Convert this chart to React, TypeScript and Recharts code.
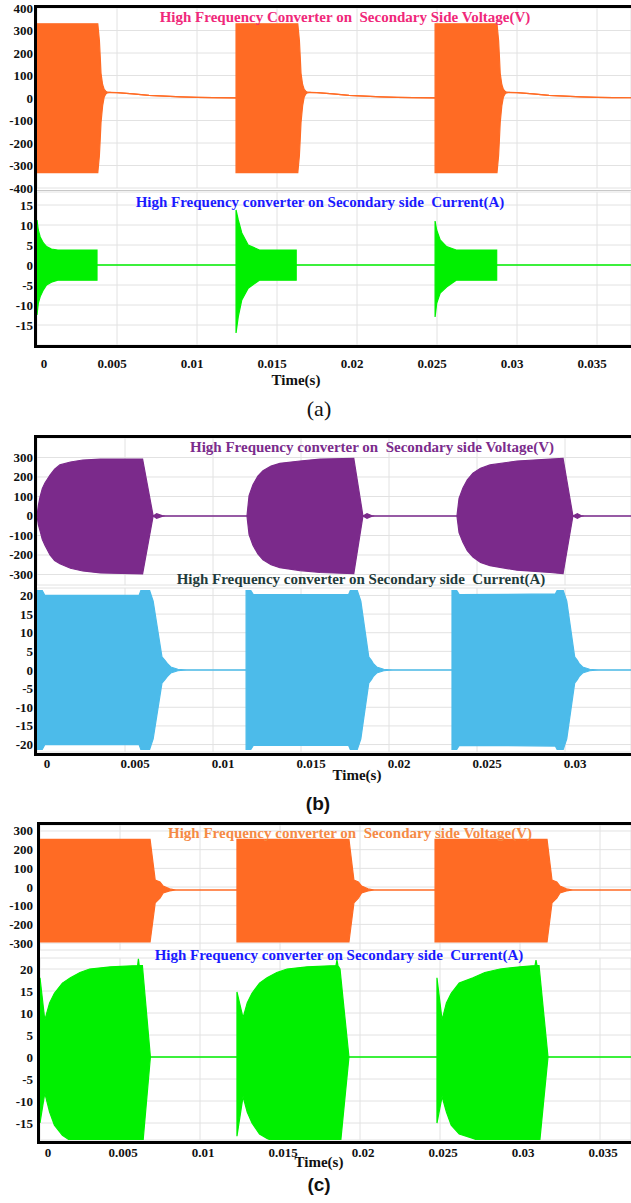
import { AreaChart, Area, XAxis, YAxis, CartesianGrid } from 'recharts'

const W = 631
const PAD = 10
const SERIF = '"Liberation Serif", "Times New Roman", serif'
const SANS = '"Liberation Sans", Arial, sans-serif'

// ---------- panel (a) ----------
const aTimeTicks = [0, 0.005, 0.01, 0.015, 0.02, 0.025, 0.03, 0.035]
const aVoltTicks = [-400, -300, -200, -100, 0, 100, 200, 300, 400]
const aCurrTicks = [-15, -10, -5, 0, 5, 10, 15]

const aVoltT = [
  0, 0.0038, 0.0039, 0.00395, 0.004, 0.0041, 0.0042, 0.0043, 0.0044, 0.0046, 0.005, 0.006, 0.007, 0.008, 0.009, 0.01, 0.011, 0.01244,
  0.01244, 0.0163, 0.0164, 0.01645, 0.0165, 0.0166, 0.0167, 0.0168, 0.0169, 0.0171, 0.0175, 0.0185, 0.0195, 0.0205, 0.0215, 0.0225, 0.0235, 0.02488,
  0.02488, 0.02875, 0.02885, 0.0289, 0.02895, 0.02905, 0.02915, 0.02925, 0.02935, 0.02955, 0.03, 0.031, 0.032, 0.033, 0.034, 0.035, 0.036, 0.0372,
]
const aVoltHi = [
  330, 330, 255, 185, 110, 60, 38, 30, 26, 25, 24, 18, 12, 8, 5, 3, 1.5, 0.5,
  330, 330, 255, 185, 110, 60, 38, 30, 26, 25, 24, 18, 12, 8, 5, 3, 1.5, 0.5,
  330, 330, 255, 185, 110, 60, 38, 30, 26, 25, 24, 18, 12, 8, 5, 3, 2, 1,
]
const aVoltLo = [
  -332, -332, -255, -185, -110, -35, 5, 18, 23, 25, 24, 18, 12, 8, 5, 3, 1.5, 0.5,
  -332, -332, -255, -185, -110, -35, 5, 18, 23, 25, 24, 18, 12, 8, 5, 3, 1.5, 0.5,
  -332, -332, -255, -185, -110, -35, 5, 18, 23, 25, 24, 18, 12, 8, 5, 3, 2, 1,
]

const aCurrT = [
  0, 0.00008, 0.0002, 0.0004, 0.0006, 0.0009, 0.0013, 0.00375, 0.00375, 0.01244,
  0.01244, 0.01258, 0.0128, 0.0132, 0.0139, 0.0162, 0.0162, 0.02488,
  0.02488, 0.02498, 0.0252, 0.0256, 0.0262, 0.02873, 0.02873, 0.0372,
]
const aCurrHi = [
  11.25, 8.75, 7, 5.5, 4.6, 4, 3.75, 3.75, 0, 0,
  13.75, 11.25, 8, 5, 3.75, 3.75, 0, 0,
  11, 8.75, 6.25, 4.6, 3.75, 3.75, 0, 0,
]
const aCurrLo = [
  -12.5, -9.6, -7.9, -6.2, -5, -4.3, -3.8, -3.8, 0, 0,
  -17, -12.9, -8.75, -5.8, -3.8, -3.8, 0, 0,
  -13, -9.6, -7, -5.5, -3.8, -3.8, 0, 0,
]

// ---------- panel (b) ----------
const bTimeTicks = [0, 0.005, 0.01, 0.015, 0.02, 0.025, 0.03]
const bVoltTicks = [-300, -200, -100, 0, 100, 200, 300]
const bCurrTicks = [-20, -15, -10, -5, 0, 5, 10, 15, 20]

const bVoltT = [
  0, 0.00008, 0.00017, 0.0003, 0.00045, 0.00074, 0.001, 0.0013, 0.0019, 0.0026, 0.0036, 0.006, 0.0066, 0.0068, 0.0071, 0.0073, 0.01193,
  0.01205, 0.01227, 0.01255, 0.01284, 0.0133, 0.0138, 0.01494, 0.01608, 0.018, 0.01852, 0.01875, 0.019, 0.0192, 0.02386,
  0.02398, 0.0242, 0.02445, 0.02477, 0.0252, 0.02574, 0.02727, 0.02915, 0.02989, 0.03045, 0.0307, 0.0309, 0.0311, 0.0338,
]
const bVoltHi = [
  0, 55, 97, 140, 169, 210, 240, 262, 277, 287, 292, 292, 0, 12, 2, 0, 0,
  105, 160, 205, 232, 256, 270, 282, 292, 295, 0, 12, 2, 0, 0,
  90, 144, 185, 220, 245, 262, 282, 292, 295, 0, 12, 2, 0, 0,
]
const bVoltLo = [
  0, -45, -75, -120, -150, -200, -228, -245, -268, -282, -292, -297, 0, -12, -2, 0, 0,
  -95, -150, -195, -225, -250, -265, -280, -290, -296, 0, -12, -2, 0, 0,
  -85, -135, -178, -210, -238, -255, -278, -290, -296, 0, -12, -2, 0, 0,
]

const bCurrT = [
  0, 0.0003, 0.00045, 0.0058, 0.0059, 0.0064, 0.0066, 0.0071, 0.00727, 0.0074, 0.0076, 0.008, 0.0085, 0.01188,
  0.01188, 0.01215, 0.0123, 0.0177, 0.0178, 0.0182, 0.0184, 0.01885, 0.019, 0.0191, 0.0193, 0.0197, 0.0202, 0.02358,
  0.02358, 0.02385, 0.024, 0.02945, 0.02955, 0.0299, 0.0301, 0.03055, 0.0307, 0.0308, 0.031, 0.0314, 0.0319, 0.0338,
]
const bCurrHi = [
  21.3, 21.3, 20, 20, 21.3, 21.3, 18.5, 3.5, 2.6, 1.8, 0.8, 0.2, 0, 0,
  21.3, 21.3, 20.2, 20.2, 21.3, 21.3, 18.5, 3.5, 2.6, 1.8, 0.8, 0.2, 0, 0,
  21.3, 21.3, 20.2, 20.4, 21.3, 21.3, 18.5, 3.5, 2.6, 1.8, 0.8, 0.2, 0, 0,
]
const bCurrLo = [
  -21.3, -21.3, -20, -20, -21.3, -21.3, -18.5, -3.5, -2.6, -1.8, -0.8, -0.2, 0, 0,
  -21.3, -21.3, -20.2, -20.2, -21.3, -21.3, -18.5, -3.5, -2.6, -1.8, -0.8, -0.2, 0, 0,
  -21.3, -21.3, -20.2, -20.4, -21.3, -21.3, -18.5, -3.5, -2.6, -1.8, -0.8, -0.2, 0, 0,
]

// ---------- panel (c) ----------
const cTimeTicks = [0, 0.005, 0.01, 0.015, 0.02, 0.025, 0.03, 0.035]
const cVoltTicks = [-300, -200, -100, 0, 100, 200, 300]
const cCurrTicks = [-15, -10, -5, 0, 5, 10, 15, 20]

const cVoltT = [
  0, 0.00688, 0.0072, 0.0075, 0.0077, 0.0081, 0.0085, 0.01231,
  0.01231, 0.01931, 0.01962, 0.0199, 0.0201, 0.0205, 0.0209, 0.02469,
  0.02469, 0.03169, 0.032, 0.0323, 0.0325, 0.0329, 0.0333, 0.03694,
]
const cVoltHi = [
  255, 255, 37, 27, 5, -10, -16, -16,
  255, 255, 37, 27, 5, -10, -16, -16,
  255, 255, 37, 27, 5, -10, -16, -16,
]
const cVoltLo = [
  -294, -294, -85, -59, -32, -21, -16, -16,
  -294, -294, -85, -59, -32, -21, -16, -16,
  -294, -294, -85, -59, -32, -21, -16, -16,
]

const cCurrT = [
  0, 0.0003, 0.0006, 0.0009, 0.0014, 0.0019, 0.0025, 0.0031, 0.0044, 0.0061, 0.00615, 0.0062, 0.0064, 0.0069, 0.01231,
  0.01231, 0.01269, 0.01295, 0.01325, 0.01372, 0.01419, 0.0148, 0.01544, 0.01669, 0.0185, 0.01856, 0.01862, 0.01875, 0.01931, 0.02481,
  0.02481, 0.02513, 0.0254, 0.0257, 0.0262, 0.02706, 0.0278, 0.02875, 0.03, 0.03094, 0.031, 0.03106, 0.03119, 0.03175, 0.03694,
]
const cCurrHi = [
  18, 8.4, 12.3, 14.5, 16.8, 18, 19.2, 20, 20.5, 20.8, 22.3, 20.8, 20.8, 0, 0,
  14.8, 8.9, 12.3, 14.5, 16.8, 18, 19.2, 20, 20.5, 20.8, 22, 20.8, 20, 0, 0,
  18, 8.4, 12.3, 14.5, 16.8, 18, 19.2, 20, 20.5, 20.8, 22, 20.8, 20.8, 0, 0,
]
const cCurrLo = [
  -15, -8.2, -12.5, -15.5, -17.8, -19, -19.8, -20, -20.5, -20.8, -20.8, -20.8, -20.8, 0, 0,
  -18, -9, -12.5, -15, -17.5, -18.5, -19.5, -20, -20.5, -20.8, -20.8, -20.8, -20.8, 0, 0,
  -15, -9, -12.5, -15.5, -17.5, -18.5, -19.5, -20, -20.5, -20.8, -20.8, -20.8, -20.8, 0, 0,
]

const renderYTick = (props: any) => (
  <text
    x={33}
    y={props.y}
    textAnchor="end"
    dominantBaseline="central"
    fontFamily={SERIF}
    fontWeight="bold"
    fontSize={13}
    fill="#111"
  >
    {props.payload.value}
  </text>
)

const makeXTick = (shift: number, zeroShift: number, dy: number) => (props: any) => {
  const v = props.payload.value
  return (
    <text
      x={props.x + (v === 0 ? zeroShift : shift)}
      y={props.y + dy}
      textAnchor="middle"
      dominantBaseline="central"
      fontFamily={SERIF}
      fontWeight="bold"
      fontSize={13}
      fill="#111"
    >
      {String(v)}
    </text>
  )
}

interface TraceProps {
  top: number
  plotLeft: number
  plotH: number
  t: number[]
  hi: number[]
  lo: number[]
  color: string
  yDomain: [number, number]
  yTicks: number[]
  xMax: number
  xTicks: number[]
  xTick?: (props: any) => any
}

// one oscilloscope trace drawn as a filled envelope [lo, hi]
function Trace(p: TraceProps) {
  const data = p.t.map((t, i) => ({ t, band: [p.lo[i], p.hi[i]] }))
  const axisH = p.xTick ? 30 : 0
  const bottom = p.xTick ? 0 : PAD
  return (
    <div style={{ position: 'absolute', left: 0, top: p.top - PAD }}>
      <AreaChart
        width={W}
        height={p.plotH + PAD + bottom + axisH}
        data={data}
        margin={{ top: PAD, right: 0, bottom, left: 0 }}
      >
        <CartesianGrid stroke="#e2e2e2" />
        <XAxis
          type="number"
          dataKey="t"
          domain={[0, p.xMax]}
          ticks={p.xTicks}
          interval={0}
          allowDataOverflow
          hide={!p.xTick}
          height={axisH || 30}
          axisLine={false}
          tickLine={false}
          tickSize={0}
          tickMargin={0}
          tick={p.xTick}
        />
        <YAxis
          type="number"
          domain={p.yDomain}
          ticks={p.yTicks}
          interval={0}
          allowDataOverflow
          width={p.plotLeft}
          axisLine={false}
          tickLine={false}
          tick={renderYTick}
        />
        <Area
          type="linear"
          dataKey="band"
          stroke={p.color}
          strokeWidth={1.2}
          fill={p.color}
          fillOpacity={1}
          dot={false}
          activeDot={false}
          isAnimationActive={false}
        />
      </AreaChart>
    </div>
  )
}

function Frame({ left, top, bottom }: { left: number; top: number; bottom: number }) {
  const bar = { position: 'absolute' as const, background: '#000' }
  return (
    <>
      <div style={{ ...bar, left, top, width: W - left, height: 3 }} />
      <div style={{ ...bar, left, top, width: 3, height: bottom - top + 3 }} />
      <div style={{ ...bar, left, top: bottom, width: W - left, height: 3 }} />
    </>
  )
}

function Label({ x, y, text, color, size = 15, family = SERIF, bold = true }: {
  x: number; y: number; text: string; color: string; size?: number; family?: string; bold?: boolean
}) {
  return (
    <div
      style={{
        position: 'absolute',
        left: x,
        top: y,
        transform: 'translate(-50%, -50%)',
        whiteSpace: 'pre',
        fontFamily: family,
        fontWeight: bold ? 'bold' : 'normal',
        fontSize: size,
        lineHeight: 1,
        color,
      }}
    >
      {text}
    </div>
  )
}

export default function App() {
  return (
    <div style={{ position: 'absolute', left: 0, top: 0, width: W, height: 1203, background: '#fff', overflow: 'hidden' }}>
      {/* (a) */}
      <Trace top={8} plotLeft={37} plotH={180} t={aVoltT} hi={aVoltHi} lo={aVoltLo} color="#ff6b24"
        yDomain={[-400, 400]} yTicks={aVoltTicks} xMax={0.037125} xTicks={aTimeTicks} />
      <Trace top={192} plotLeft={37} plotH={153} t={aCurrT} hi={aCurrHi} lo={aCurrLo} color="#00f000"
        yDomain={[-20, 18.25]} yTicks={aCurrTicks} xMax={0.037125} xTicks={aTimeTicks} xTick={makeXTick(-5, 7, 18)} />
      <div style={{ position: 'absolute', left: 37, top: 190, width: W - 37, height: 1, background: '#c8c8c8' }} />
      <Frame left={34} top={5} bottom={345} />
      <Label x={345} y={17} text="High Frequency Converter on  Secondary Side Voltage(V)" color="#f0287a" />
      <Label x={320} y={202} text="High Frequency converter on Secondary side  Current(A)" color="#1a1aff" />
      <Label x={296} y={380} text="Time(s)" color="#111" />
      <Label x={319} y={409} text="(a)" color="#111" size={22} bold={false} />

      {/* (b) */}
      <Trace top={438} plotLeft={37} plotH={147} t={bVoltT} hi={bVoltHi} lo={bVoltLo} color="#7b2a8b"
        yDomain={[-354, 400]} yTicks={bVoltTicks} xMax={0.03375} xTicks={bTimeTicks} />
      <Trace top={588} plotLeft={37} plotH={164} t={bCurrT} hi={bCurrHi} lo={bCurrLo} color="#4cbbea"
        yDomain={[-22, 22]} yTicks={bCurrTicks} xMax={0.03375} xTicks={bTimeTicks} xTick={makeXTick(10, 10, 11)} />
      <Frame left={34} top={435} bottom={753} />
      <Label x={372} y={447} text="High Frequency converter on  Secondary side Voltage(V)" color="#7b2c8c" />
      <Label x={361} y={579} text="High Frequency converter on Secondary side  Current(A)" color="#1f3b3b" />
      <Label x={357} y={775} text="Time(s)" color="#111" />
      <Label x={318} y={803} text="(b)" color="#111" size={19} family={SANS} />

      {/* (c) */}
      <Trace top={825} plotLeft={40} plotH={125} t={cVoltT} hi={cVoltHi} lo={cVoltLo} color="#ff6b24"
        yDomain={[-337, 332]} yTicks={cVoltTicks} xMax={0.0369375} xTicks={cTimeTicks} />
      <Trace top={958} plotLeft={40} plotH={182} t={cCurrT} hi={cCurrHi} lo={cCurrLo} color="#00f000"
        yDomain={[-18.86, 22.5]} yTicks={cCurrTicks} xMax={0.0369375} xTicks={cTimeTicks} xTick={makeXTick(3, 8, 12)} />
      <Frame left={37} top={822} bottom={1141} />
      <Label x={350} y={833} text="High Frequency converter on  Secondary side Voltage(V)" color="#f58a45" />
      <Label x={339} y={955} text="High Frequency converter on Secondary side  Current(A)" color="#1a1aff" />
      <Label x={319} y={1162} text="Time(s)" color="#111" />
      <Label x={319} y={1184} text="(c)" color="#111" size={19} family={SANS} />
    </div>
  )
}
